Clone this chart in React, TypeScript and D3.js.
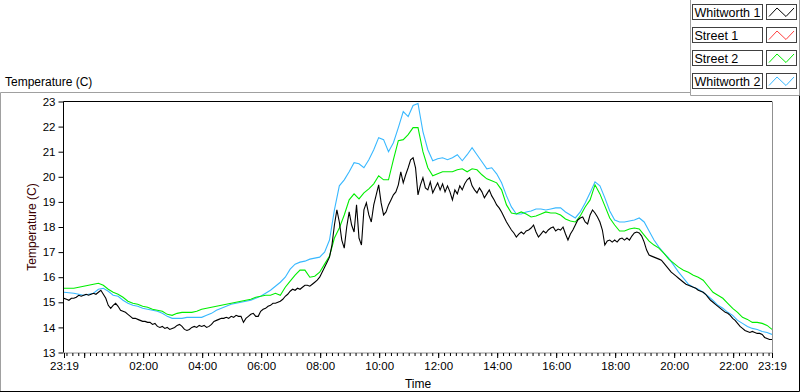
import { useEffect, useRef } from 'react';
import * as d3 from 'd3';

// legend / series order as in the reference
const seriesNames = ['Whitworth 1', 'Street 1', 'Street 2', 'Whitworth 2'];
const seriesColors = ['#000000', '#ff4040', '#00ee00', '#38b8ff'];

// Whitworth 1, one reading every 5 minutes from 23:19
const whitworth1 = [
  15.16, 15.12, 15.08, 15.16, 15.16, 15.2, 15.28, 15.24, 15.28, 15.32, 15.28, 15.32, 15.36, 15.32, 15.4, 15.48,
  15.32, 15.16, 14.88, 14.76, 14.88, 14.96, 14.84, 14.68, 14.64, 14.6, 14.52, 14.44, 14.36, 14.36, 14.32, 14.28,
  14.24, 14.24, 14.2, 14.2, 14.12, 14.16, 14.04, 14.0, 14.04, 13.96, 14.0, 13.92, 13.96, 14.0, 14.08, 14.12,
  14.04, 13.92, 13.88, 13.92, 14.0, 14.04, 14.0, 14.08, 14.04, 14.08, 14.0, 14.04, 14.12, 14.24, 14.28, 14.32,
  14.36, 14.36, 14.4, 14.36, 14.44, 14.4, 14.48, 14.44, 14.44, 14.2, 14.36, 14.44, 14.52, 14.56, 14.44, 14.44,
  14.64, 14.72, 14.76, 14.84, 14.88, 14.96, 14.96, 15.0, 15.04, 15.12, 15.24, 15.32, 15.44, 15.52, 15.48, 15.56,
  15.52, 15.6, 15.68, 15.68, 15.64, 15.72, 15.8, 15.88, 16.0, 16.2, 16.4, 16.6, 16.8, 17.28, 18.08, 18.68,
  18.2, 17.48, 17.16, 18.0, 18.6, 18.08, 17.8, 18.88, 17.56, 17.28, 18.68, 18.96, 18.48, 18.2, 18.88, 19.28,
  19.68, 18.96, 18.48, 18.6, 18.88, 19.08, 19.28, 19.4, 19.68, 20.2, 19.76, 20.08, 20.36, 20.68, 20.76, 20.36,
  19.28, 19.68, 19.96, 19.56, 19.48, 19.8, 19.36, 19.56, 19.76, 19.48, 19.72, 19.4, 19.64, 19.4, 19.08, 19.48,
  19.32, 19.64, 19.48, 19.72, 19.88, 19.96, 19.64, 19.48, 19.36, 19.56, 19.4, 19.16, 19.32, 19.48, 19.24, 19.08,
  18.88, 18.76, 18.6, 18.4, 18.2, 18.04, 17.88, 17.76, 17.6, 17.72, 17.8, 17.72, 17.84, 17.88, 17.96, 18.08,
  17.8, 17.6, 17.72, 17.84, 17.76, 17.88, 17.96, 18.0, 17.84, 17.92, 17.88, 18.0, 17.72, 17.48, 17.72, 17.88,
  18.08, 18.28, 18.36, 18.4, 18.2, 18.12, 18.48, 18.68, 18.56, 18.4, 18.2, 17.88, 17.28, 17.44, 17.48, 17.4,
  17.48, 17.4, 17.52, 17.56, 17.48, 17.56, 17.48, 17.64, 17.76, 17.8, 17.76, 17.64, 17.4, 17.08, 16.88, 16.84,
  16.8, 16.76, 16.72, 16.68, 16.56, 16.44, 16.32, 16.2, 16.12, 16.04, 15.96, 15.88, 15.8, 15.72, 15.68, 15.64,
  15.6, 15.56, 15.48, 15.44, 15.4, 15.32, 15.2, 15.08, 15.0, 14.92, 14.84, 14.76, 14.68, 14.6, 14.56, 14.48,
  14.36, 14.28, 14.16, 14.04, 13.96, 13.88, 13.84, 13.8, 13.84, 13.8, 13.76, 13.76, 13.72, 13.6, 13.56, 13.52,
  13.52,
];

// Street 1 has no readings in this period
const street1: number[] = [];

// Street 2, one reading every 10 minutes from 23:19
const street2 = [
  15.56, 15.56, 15.56, 15.6, 15.64, 15.68, 15.72, 15.76, 15.68, 15.52, 15.4, 15.32, 15.2, 15.04, 14.96, 14.92,
  14.84, 14.8, 14.72, 14.68, 14.64, 14.52, 14.48, 14.56, 14.6, 14.6, 14.6, 14.64, 14.72, 14.76, 14.8, 14.84,
  14.88, 14.92, 14.96, 15.0, 15.04, 15.08, 15.12, 15.2, 15.24, 15.28, 15.28, 15.36, 15.28, 15.6, 15.84, 16.08,
  16.28, 16.28, 16.0, 16.04, 16.2, 16.52, 16.84, 17.56, 17.96, 18.48, 19.08, 19.32, 19.12, 19.36, 19.52, 19.72,
  20.04, 19.88, 19.88, 20.68, 21.44, 21.48, 21.68, 21.96, 21.96, 21.0, 20.36, 20.04, 20.12, 20.2, 20.2, 20.2,
  20.28, 20.32, 20.2, 20.32, 20.28, 20.08, 19.92, 19.84, 19.76, 19.48, 18.88, 18.56, 18.52, 18.6, 18.52, 18.4,
  18.44, 18.52, 18.6, 18.56, 18.56, 18.48, 18.32, 18.24, 18.2, 18.44, 18.8, 19.08, 19.68, 19.32, 18.84, 18.36,
  18.08, 17.84, 17.84, 17.92, 17.96, 17.92, 17.68, 17.44, 17.28, 17.16, 16.96, 16.72, 16.56, 16.4, 16.28, 16.2,
  16.08, 16.0, 15.88, 15.64, 15.4, 15.28, 15.16, 14.96, 14.76, 14.6, 14.4, 14.32, 14.2, 14.2, 14.16, 14.08,
  13.92,
];

// Whitworth 2, one reading every 10 minutes from 23:19
const whitworth2 = [
  15.4, 15.38, 15.36, 15.32, 15.28, 15.32, 15.36, 15.52, 15.56, 15.44, 15.28, 15.24, 15.08, 14.96, 14.88, 14.84,
  14.76, 14.72, 14.68, 14.64, 14.56, 14.44, 14.36, 14.36, 14.36, 14.4, 14.4, 14.4, 14.4, 14.48, 14.56, 14.68,
  14.76, 14.84, 14.92, 14.96, 15.0, 15.04, 15.08, 15.16, 15.24, 15.36, 15.48, 15.64, 15.8, 16.0, 16.32, 16.52,
  16.6, 16.64, 16.72, 16.76, 16.8, 17.0, 17.48, 18.68, 19.64, 19.88, 20.2, 20.56, 20.52, 20.36, 20.68, 21.08,
  21.56, 21.48, 21.0, 21.36, 21.96, 22.6, 22.4, 22.84, 22.92, 21.8, 21.08, 20.64, 20.72, 20.76, 20.68, 20.76,
  20.88, 20.64, 20.88, 21.16, 20.88, 20.6, 20.32, 20.36, 20.12, 19.76, 19.24, 18.8, 18.52, 18.52, 18.6, 18.64,
  18.72, 18.72, 18.68, 18.72, 18.76, 18.76, 18.6, 18.48, 18.36, 18.6, 18.96, 19.36, 19.8, 19.64, 19.16, 18.64,
  18.28, 18.2, 18.2, 18.24, 18.28, 18.36, 18.2, 17.84, 17.48, 17.2, 16.96, 16.76, 16.48, 16.2, 15.96, 15.72,
  15.6, 15.52, 15.4, 15.24, 15.08, 14.88, 14.76, 14.6, 14.48, 14.28, 14.16, 14.04, 13.96, 13.92, 13.84, 13.8,
  13.72,
];

const yTicks = [13, 14, 15, 16, 17, 18, 19, 20, 21, 22, 23];
const startLabel = '23:19';
const yTitle = 'Temperature (C)';
const xTitle = 'Time';

export default function App(): JSX.Element {
  const svgRef = useRef<SVGSVGElement>(null);

  useEffect(() => {
    const width = 800;
    const height = 392;
    const plotLeft = 64;
    const plotRight = 772;
    const plotTop = 101.5;
    const plotBottom = 352.5;
    const font = "'Liberation Sans', Arial, sans-serif";

    const svg = d3.select(svgRef.current);
    svg.selectAll('*').remove();
    svg.attr('width', width).attr('height', height).attr('viewBox', [0, 0, width, height]);

    const start = new Date(2000, 0, 1, 23, 19);
    const end = d3.timeDay.offset(start, 1);

    const x = d3.scaleTime([start, end], [plotLeft, plotRight]);
    const y = d3.scaleLinear([13, 23], [plotBottom, plotTop]);

    svg.append('rect').attr('width', width).attr('height', height).attr('fill', '#fff');

    // outer panel (sunken look)
    svg.append('path').attr('d', `M0.5,391 V92.5 H690`).attr('fill', 'none').attr('stroke', '#a0a0a0');
    svg.append('path').attr('d', `M0,391.5 H799.5 V95`).attr('fill', 'none').attr('stroke', '#000');

    svg
      .append('text')
      .attr('x', 5)
      .attr('y', 86)
      .attr('font-family', font)
      .attr('font-size', 12)
      .text(yTitle);

    // legend box
    svg
      .append('path')
      .attr('d', 'M690.5,0 V95.5 H799.5 V0')
      .attr('fill', 'none')
      .attr('stroke', '#a0a0a0');

    const legend = svg
      .append('g')
      .selectAll('g')
      .data(seriesNames)
      .join('g')
      .attr('transform', (_, i) => `translate(0,${4.5 + i * 23})`);

    legend
      .append('rect')
      .attr('x', 692.5)
      .attr('width', 70)
      .attr('height', 15)
      .attr('fill', '#fff')
      .attr('stroke', '#404040');

    legend
      .append('text')
      .attr('x', 694.5)
      .attr('y', 12)
      .attr('font-family', font)
      .attr('font-size', 12.5)
      .text((d) => d);

    legend
      .append('rect')
      .attr('x', 766.5)
      .attr('width', 30)
      .attr('height', 15)
      .attr('fill', '#fff')
      .attr('stroke', '#404040');

    legend
      .append('path')
      .attr('d', 'M769,12 L777,3.5 L786,12 L794,3.5')
      .attr('fill', 'none')
      .attr('stroke', (_, i) => seriesColors[i]);

    // plot frame
    svg
      .append('path')
      .attr('d', `M${plotLeft - 0.5},${plotBottom} V${plotTop} H${plotRight}`)
      .attr('fill', 'none')
      .attr('stroke', '#000');
    svg
      .append('path')
      .attr('d', `M${plotRight + 0.5},${plotTop} V${plotBottom + 0.5} H${plotLeft}`)
      .attr('fill', 'none')
      .attr('stroke', '#909090');

    // y axis
    svg
      .append('g')
      .attr('transform', `translate(${plotLeft - 0.5},0)`)
      .call(d3.axisLeft(y).tickValues(yTicks).tickSize(5).tickPadding(3).tickFormat(d3.format('d')))
      .call((g) => g.select('.domain').remove())
      .call((g) => g.selectAll('.tick line').attr('stroke', '#000'))
      .call((g) =>
        g.selectAll('.tick text').attr('font-family', font).attr('font-size', 11.5).attr('fill', '#000')
      );

    // x axis: minor ticks every 12 minutes, major every 2 hours
    const minor = d3.timeMinute.every(12)!.range(start, end);
    const major = [start, ...d3.timeHour.every(2)!.range(start, end), end];
    const hourFmt = d3.timeFormat('%H:%M');

    svg
      .append('g')
      .attr('transform', `translate(0,${plotBottom + 0.5})`)
      .call(d3.axisBottom(x).tickValues(minor).tickSize(3).tickFormat(() => ''))
      .call((g) => g.select('.domain').remove())
      .call((g) => g.selectAll('.tick line').attr('stroke', '#000'));

    svg
      .append('g')
      .attr('transform', `translate(0,${plotBottom + 0.5})`)
      .call(
        d3
          .axisBottom(x)
          .tickValues(major)
          .tickSize(5)
          .tickPadding(4)
          .tickFormat((d) => {
            const t = d as Date;
            if (+t === +start || +t === +end) return startLabel;
            return t.getHours() === 0 ? '' : hourFmt(t);
          })
      )
      .call((g) => g.select('.domain').remove())
      .call((g) => g.selectAll('.tick line').attr('stroke', '#000'))
      .call((g) =>
        g.selectAll('.tick text').attr('font-family', font).attr('font-size', 11.5).attr('fill', '#000')
      );

    svg
      .append('text')
      .attr('x', (plotLeft + plotRight) / 2)
      .attr('y', 388)
      .attr('text-anchor', 'middle')
      .attr('font-family', font)
      .attr('font-size', 12)
      .text(xTitle);

    svg
      .append('text')
      .attr('transform', `translate(36,${(plotTop + plotBottom) / 2}) rotate(-90)`)
      .attr('text-anchor', 'middle')
      .attr('font-family', font)
      .attr('font-size', 12)
      .attr('fill', '#3a0000')
      .text(yTitle);

    // series lines
    svg
      .append('clipPath')
      .attr('id', 'plot-clip')
      .append('rect')
      .attr('x', plotLeft)
      .attr('y', plotTop)
      .attr('width', plotRight - plotLeft)
      .attr('height', plotBottom - plotTop);

    const plots = svg.append('g').attr('clip-path', 'url(#plot-clip)');

    const series = [
      { values: whitworth2, step: 10, color: seriesColors[3] },
      { values: street2, step: 10, color: seriesColors[2] },
      { values: street1, step: 10, color: seriesColors[1] },
      { values: whitworth1, step: 5, color: seriesColors[0] },
    ];

    series.forEach((s) => {
      if (!s.values.length) return;
      const line = d3
        .line<number>()
        .x((_, i) => x(d3.timeMinute.offset(start, i * s.step)))
        .y((d) => y(d));
      plots
        .append('path')
        .attr('fill', 'none')
        .attr('stroke', s.color)
        .attr('stroke-width', 1.1)
        .attr('d', line(s.values));
    });
  }, []);

  return <svg ref={svgRef} style={{ position: 'absolute', left: 0, top: 0, background: '#fff' }} />;
}
